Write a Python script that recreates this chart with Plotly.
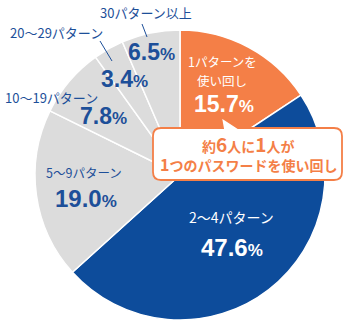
import plotly.graph_objects as go

# ---- data ----
labels = ["1パターンを使い回し", "2〜4パターン", "5〜9パターン", "10〜19パターン", "20〜29パターン", "30パターン以上"]
values = [15.7, 47.6, 19.0, 7.8, 3.4, 6.5]
label_lines = [["1パターンを", "使い回し"], ["2〜4パターン"], ["5〜9パターン"], ["10〜19パターン"], ["20〜29パターン"], ["30パターン以上"]]
callout_lines = ["約6人に1人が", "1つのパスワードを使い回し"]

# ---- style ----
W, H = 360, 329
ORANGE = "#F47F47"
BLUE = "#0D4C9B"
GRAY = "#DCDCDC"
TXT_BLUE = "#1D4F99"
colors = [ORANGE, BLUE, GRAY, GRAY, GRAY, GRAY]
FONT = "Liberation Sans, Noto Sans CJK JP, sans-serif"
JFONT = "Noto Sans CJK JP, sans-serif"

def px(x):
    return x / W

def py(y):
    return 1 - y / H

cx, cy, r = 180, 175, 145

fig = go.Figure(go.Pie(
    labels=labels, values=values, sort=False, direction="clockwise", rotation=0,
    marker=dict(colors=colors, line=dict(color="white", width=1.5)),
    textinfo="none", hoverinfo="label+percent", showlegend=False,
    domain=dict(x=[px(cx - r), px(cx + r)], y=[py(cy + r), py(cy - r)]),
))

def pct(v, size, psize):
    return f"<b>{v:.1f}</b><span style='font-size:{psize}px'><b>%</b></span>"

# label layout: (category text pos, size, color), (value pos, size)
placement = [
    dict(lines=[(222, 62), (222, 80)], lsize=12.5, vpos=(224, 104), vsize=23, col="white"),
    dict(lines=[(231, 217)], lsize=14, vpos=(232, 247), vsize=24, col="white"),
    dict(lines=[(84, 172)], lsize=12.5, vpos=(86, 198), vsize=24, col=TXT_BLUE),
    dict(lines=[(52, 97)], lsize=13, vpos=(103, 116), vsize=23, col=TXT_BLUE),
    dict(lines=[(56, 33)], lsize=13, vpos=(124, 79), vsize=23, col=TXT_BLUE),
    dict(lines=[(146, 13)], lsize=13, vpos=(151, 52), vsize=23, col=TXT_BLUE),
]

annotations = []
for i, p in enumerate(placement):
    for txt, (x, y) in zip(label_lines[i], p["lines"]):
        annotations.append(dict(x=px(x), y=py(y), xref="paper", yref="paper", text=txt,
                                showarrow=False, xanchor="center", yanchor="middle",
                                font=dict(family=JFONT, size=p["lsize"], color=p["col"])))
    x, y = p["vpos"]
    annotations.append(dict(x=px(x), y=py(y), xref="paper", yref="paper",
                            text=pct(values[i], p["vsize"], round(p["vsize"] * 0.72)),
                            showarrow=False, xanchor="center", yanchor="middle",
                            font=dict(family=FONT, size=p["vsize"], color=p["col"])))

# callout text
l1 = "<b>約<span style='font-size:19px'>6</span>人に<span style='font-size:19px'>1</span>人が</b>"
l2 = "<b><span style='font-size:16px'>1</span>つのパスワードを使い回し</b>"
annotations.append(dict(x=px(248), y=py(143), xref="paper", yref="paper", text=l1, showarrow=False,
                        xanchor="center", yanchor="middle", font=dict(family=JFONT, size=14, color=ORANGE)))
annotations.append(dict(x=px(248), y=py(164), xref="paper", yref="paper", text=l2, showarrow=False,
                        xanchor="center", yanchor="middle", font=dict(family=JFONT, size=14, color=ORANGE)))

# callout box path
x0, x1, y0, y1, rr = 153, 342, 128, 180, 8
pts = []
def P(x, y):
    return f"{px(x):.5f},{py(y):.5f}"
path = (f"M {P(x0 + rr, y0)} L {P(223, y0)} L {P(221, 117)} L {P(238, y0)} L {P(x1 - rr, y0)} "
        f"Q {P(x1, y0)} {P(x1, y0 + rr)} L {P(x1, y1 - rr)} Q {P(x1, y1)} {P(x1 - rr, y1)} "
        f"L {P(x0 + rr, y1)} Q {P(x0, y1)} {P(x0, y1 - rr)} L {P(x0, y0 + rr)} Q {P(x0, y0)} {P(x0 + rr, y0)} Z")

shapes = [
    dict(type="path", xref="paper", yref="paper", path=path, fillcolor="white",
         line=dict(color=ORANGE, width=1.8), layer="above"),
    dict(type="line", xref="paper", yref="paper", x0=px(142), y0=py(24), x1=px(147), y1=py(37),
         line=dict(color=TXT_BLUE, width=1)),
    dict(type="line", xref="paper", yref="paper", x0=px(100), y0=py(41), x1=px(112), y1=py(61),
         line=dict(color=TXT_BLUE, width=1)),
]

fig.update_layout(width=W, height=H, margin=dict(l=0, r=0, t=0, b=0),
                  paper_bgcolor="white", plot_bgcolor="white",
                  annotations=annotations, shapes=shapes)
fig.write_html("out.html")
